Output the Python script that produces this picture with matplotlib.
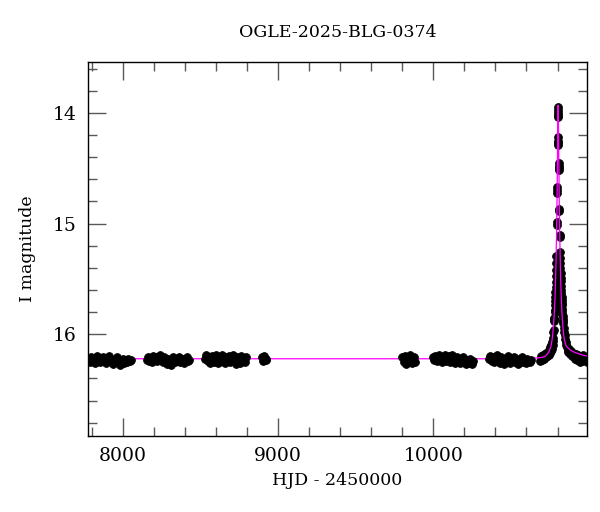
#!/usr/bin/env python3
"""OGLE light curve of OGLE-2025-BLG-0374 with the model curve."""

import matplotlib
matplotlib.use("Agg")
import matplotlib.pyplot as plt
from matplotlib.ticker import MultipleLocator

TITLE = "OGLE-2025-BLG-0374"
XLABEL = "HJD - 2450000"
YLABEL = "I magnitude"

# typical photometric error of a point (mag)
MAG_ERR = 0.018

# Photometry per observing season: (HJD - 2450000, I mag)
season1 = [(7776, 16.22), (7784, 16.25), (7793, 16.21), (7801, 16.24), (7810, 16.23),
           (7818, 16.26), (7827, 16.22), (7835, 16.20), (7844, 16.24), (7852, 16.25),
           (7861, 16.22), (7870, 16.21), (7878, 16.23), (7887, 16.26), (7895, 16.24),
           (7904, 16.22), (7912, 16.20), (7921, 16.23), (7930, 16.25), (7938, 16.27),
           (7947, 16.24), (7955, 16.22), (7964, 16.21), (7973, 16.25), (7981, 16.28),
           (7990, 16.24), (7998, 16.22), (8007, 16.26), (8016, 16.23), (8025, 16.25),
           (8034, 16.22), (8043, 16.24), (8052, 16.23)]
season2 = [(8152, 16.23), (8160, 16.21), (8169, 16.24), (8177, 16.22), (8186, 16.25),
           (8195, 16.20), (8203, 16.23), (8212, 16.21), (8221, 16.24), (8229, 16.22),
           (8238, 16.19), (8246, 16.23), (8255, 16.25), (8264, 16.21), (8272, 16.24),
           (8281, 16.27), (8289, 16.22), (8298, 16.25), (8307, 16.28), (8315, 16.23),
           (8324, 16.21), (8333, 16.25), (8341, 16.22), (8350, 16.24), (8359, 16.21),
           (8367, 16.25), (8376, 16.23), (8385, 16.22), (8393, 16.26), (8402, 16.23),
           (8411, 16.21), (8419, 16.24), (8427, 16.23)]
season3 = [(8528, 16.22), (8536, 16.19), (8545, 16.24), (8553, 16.21), (8562, 16.26),
           (8570, 16.20), (8579, 16.23), (8587, 16.25), (8596, 16.19), (8605, 16.22),
           (8613, 16.26), (8622, 16.21), (8630, 16.24), (8639, 16.19), (8648, 16.23),
           (8656, 16.26), (8665, 16.21), (8673, 16.24), (8682, 16.20), (8691, 16.25),
           (8699, 16.22), (8708, 16.19), (8716, 16.24), (8725, 16.27), (8733, 16.21),
           (8742, 16.23), (8751, 16.26), (8759, 16.20), (8768, 16.24), (8776, 16.22),
           (8785, 16.25), (8790, 16.21)]
season4 = [(8893, 16.21), (8902, 16.24), (8910, 16.20), (8918, 16.23), (8924, 16.22)]
season5 = [(9800, 16.21), (9808, 16.25), (9817, 16.20), (9825, 16.27), (9834, 16.22),
           (9842, 16.24), (9851, 16.19), (9860, 16.26), (9868, 16.23), (9877, 16.21),
           (9882, 16.25)]
season6 = [(9996, 16.21), (10004, 16.23), (10013, 16.20), (10021, 16.24), (10030, 16.22),
           (10038, 16.19), (10047, 16.23), (10055, 16.25), (10064, 16.21), (10072, 16.19),
           (10081, 16.24), (10089, 16.22), (10098, 16.20), (10106, 16.25), (10115, 16.22),
           (10123, 16.19), (10132, 16.23), (10140, 16.26), (10149, 16.21), (10157, 16.24),
           (10166, 16.22), (10174, 16.26), (10183, 16.23), (10191, 16.21), (10200, 16.25),
           (10208, 16.27), (10217, 16.23), (10225, 16.26), (10234, 16.22), (10242, 16.25),
           (10251, 16.27), (10257, 16.24)]
season7 = [(10359, 16.22), (10367, 16.20), (10376, 16.24), (10384, 16.21), (10393, 16.25),
           (10401, 16.22), (10410, 16.19), (10418, 16.23), (10427, 16.26), (10435, 16.21),
           (10444, 16.24), (10452, 16.27), (10461, 16.22), (10469, 16.25), (10478, 16.20),
           (10486, 16.23), (10495, 16.26), (10503, 16.22), (10512, 16.24), (10520, 16.21),
           (10529, 16.25), (10537, 16.23), (10546, 16.27), (10554, 16.22), (10563, 16.24),
           (10571, 16.21), (10580, 16.25), (10588, 16.23), (10597, 16.26), (10605, 16.22),
           (10614, 16.24), (10622, 16.25), (10628, 16.23)]
# event season: rising wing, nights around the peak, falling wing
event = [(10688, 16.24), (10694, 16.20), (10700, 16.23), (10706, 16.19), (10712, 16.22),
         (10718, 16.18), (10723, 16.21), (10728, 16.17), (10733, 16.20), (10738, 16.16),
         (10742, 16.19), (10746, 16.14), (10750, 16.17), (10754, 16.12), (10757, 16.15),
         (10760, 16.10), (10763, 16.13), (10766, 16.07), (10768, 16.10), (10770, 16.03),
         (10772, 16.06), (10774, 15.98), (10776, 15.96), (10778, 15.88), (10779, 15.86),
         (10780, 15.85), (10781, 15.80), (10782, 15.78), (10783, 15.74), (10784, 15.70),
         (10785, 15.66), (10786, 15.62), (10787, 15.57), (10788, 15.53), (10789, 15.47),
         (10790, 15.42), (10791, 15.36), (10792, 15.29),
         (10795, 14.99), (10795, 15.01),
         (10798, 14.67), (10798, 14.70), (10798, 14.72),
         (10801, 14.22), (10801, 14.25), (10801, 14.27), (10801, 14.29),
         (10804, 13.95), (10804, 13.97), (10804, 14.00), (10804, 14.02), (10804, 14.04),
         (10809, 14.45), (10809, 14.48), (10809, 14.50), (10809, 14.52),
         (10812, 14.87), (10812, 14.89),
         (10814, 15.10), (10814, 15.12),
         (10816, 15.26), (10817, 15.31), (10818, 15.36), (10819, 15.40), (10820, 15.45),
         (10821, 15.49), (10822, 15.52), (10823, 15.56), (10824, 15.60), (10825, 15.63),
         (10826, 15.66), (10827, 15.69), (10828, 15.72), (10829, 15.74), (10830, 15.77),
         (10831, 15.79), (10832, 15.82), (10833, 15.84), (10834, 15.86), (10835, 15.88),
         (10836, 15.90), (10839, 15.94), (10842, 15.98), (10845, 16.01), (10848, 16.04),
         (10852, 16.07), (10856, 16.10), (10860, 16.12), (10865, 16.14), (10870, 16.16),
         (10876, 16.13), (10882, 16.18), (10888, 16.15), (10895, 16.20), (10902, 16.17),
         (10910, 16.22), (10918, 16.18), (10926, 16.23), (10934, 16.19), (10942, 16.25),
         (10950, 16.20), (10958, 16.24), (10966, 16.19), (10974, 16.23), (10982, 16.21),
         (10990, 16.25), (10998, 16.22)]

# model light curve
model = [(7700, 16.222), (10500, 16.222), (10604, 16.219), (10654, 16.216),
         (10704, 16.209), (10724, 16.196), (10734, 16.18), (10744, 16.16),
         (10754, 16.125), (10759, 16.10), (10764, 16.06), (10769, 16.00),
         (10774, 15.92), (10776, 15.88), (10779, 15.815), (10782, 15.73),
         (10784, 15.66), (10786, 15.58), (10788, 15.48), (10790, 15.37),
         (10792, 15.22), (10794, 15.08), (10796, 14.88), (10797, 14.77),
         (10798, 14.64), (10799, 14.51), (10800, 14.38), (10801, 14.22),
         (10802, 14.08), (10803, 13.97), (10804, 13.93), (10805, 13.97),
         (10806, 14.08), (10807, 14.22), (10808, 14.38), (10809, 14.51),
         (10810, 14.64), (10811, 14.77), (10812, 14.88), (10814, 15.08),
         (10816, 15.22), (10818, 15.37), (10820, 15.48), (10822, 15.58),
         (10824, 15.66), (10826, 15.73), (10829, 15.815), (10832, 15.88),
         (10834, 15.92), (10839, 16.00), (10844, 16.05), (10854, 16.10),
         (10864, 16.12), (10884, 16.145), (10904, 16.16), (10934, 16.175),
         (10964, 16.19), (11004, 16.20), (11100, 16.21)]

XLIM = (7774, 10990)
YLIM = (16.92, 13.54)

plt.rcParams['font.family'] = ['DejaVu Serif']

fig = plt.figure(figsize=(6.0, 5.12), dpi=100)
ax = fig.add_axes([88 / 600, 76 / 512, 499 / 600, 374 / 512])

pt_style = dict(fmt='o', color='black', ms=5.6, mew=0.6, mec='black',
                elinewidth=1.2, capsize=0)

# baseline seasons sit over the model line, the event season under it
for season in (season1, season2, season3, season4, season5, season6, season7):
    t, m = zip(*season)
    ax.errorbar(t, m, yerr=MAG_ERR, zorder=4, **pt_style)
t, m = zip(*event)
ax.errorbar(t, m, yerr=MAG_ERR, zorder=2, **pt_style)

mt, mm = zip(*model)
ax.plot(mt, mm, color='#ff00ff', lw=0.9, zorder=3)

ax.set_xlim(*XLIM)
ax.set_ylim(*YLIM)

ax.xaxis.set_major_locator(MultipleLocator(1000))
ax.xaxis.set_minor_locator(MultipleLocator(200))
ax.yaxis.set_major_locator(MultipleLocator(1))
ax.yaxis.set_minor_locator(MultipleLocator(0.2))

ax.tick_params(axis='both', which='both', direction='in',
               top=True, right=True, color='0.35', width=1.0)
ax.tick_params(axis='both', which='major', length=13, labelsize=13.5, pad=8)
ax.tick_params(axis='both', which='minor', length=6.5)
for sp in ax.spines.values():
    sp.set_linewidth(1.0)

ax.set_title(TITLE, fontsize=12.5, pad=18)
ax.set_xlabel(XLABEL, fontsize=12.5, labelpad=5)
ax.set_ylabel(YLABEL, fontsize=12.5, labelpad=12)

fig.savefig("out.png", dpi=100)
